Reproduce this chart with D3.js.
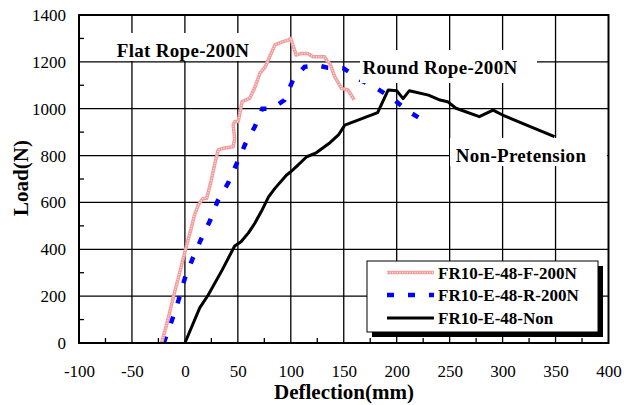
<!DOCTYPE html>
<html>
<head>
<meta charset="utf-8">
<script src="https://cdn.jsdelivr.net/npm/d3@7"></script>
<style>
  html, body { margin: 0; padding: 0; background: #fff; }
  svg { display: block; }
  text { font-family: "Liberation Serif", "Times New Roman", serif; fill: #000; }
</style>
</head>
<body>
<svg id="chart" width="624" height="405"></svg>
<script>
// ---- data ----
const xTicks = [-100, -50, 0, 50, 100, 150, 200, 250, 300, 350, 400];
const yTicks = [0, 200, 400, 600, 800, 1000, 1200, 1400];
const xMinor = [-75, -25, 25, 75, 125, 175, 225, 275, 325, 375];
const yMinor = [100, 300, 500, 700, 900, 1100, 1300];

const seriesNames = ["FR10-E-48-F-200N", "FR10-E-48-R-200N", "FR10-E-48-Non"];

const flatX = [-22, -16, -11, -6, -2, 3, 6, 9, 12.6, 17, 20.5, 25, 28, 31.4, 36, 45.6, 47, 45.6, 47, 50.3, 54, 61, 66, 70.8, 76, 80, 85, 92, 97.5, 100, 105, 110, 116, 121, 127, 132, 134, 137, 141.5, 147.8, 154, 160];
const flatY = [0, 100, 195, 280, 354, 440, 490, 545, 589, 617, 617, 696, 760, 824, 831, 838, 873, 930, 945, 945, 1030, 1044, 1090, 1151, 1180, 1222, 1272, 1285, 1293, 1300, 1229, 1236, 1236, 1222, 1222, 1222, 1205, 1193, 1137, 1087, 1080, 1037];

const roundX = [-20, -12, -6, 0, 7, 15, 24, 31, 41, 49, 57, 66, 73, 82, 94, 102, 113, 125, 135, 150, 166, 181, 196, 210, 225];
const roundY = [0, 100, 183, 277, 357, 440, 525, 607, 684, 767, 849, 923, 1000, 1000, 1037, 1122, 1179, 1185, 1175, 1172, 1122, 1087, 1044, 992, 950];

const nonX = [0, 14, 22, 35, 47, 53, 60, 66, 72, 79, 85, 96, 100, 105, 115, 124, 137, 145, 151, 182, 192, 200, 206, 212, 230, 241, 248, 256, 278, 291, 300, 325, 349];
const nonY = [0, 150, 205, 310, 414, 432, 470, 511, 560, 624, 660, 717, 731, 752, 795, 812, 855, 888, 930, 983, 1080, 1077, 1043, 1077, 1058, 1037, 1030, 1002, 966, 994, 973, 926, 881];

const annotations = ["Flat Rope-200N", "Round Rope-200N", "Non-Pretension"];

// ---- setup ----
const FONT = "Liberation Serif";
const svg = d3.select("#chart");
const x = d3.scaleLinear().domain([-100, 400]).range([79, 608.5]);
const y = d3.scaleLinear().domain([0, 1400]).range([343, 15]);

// gridlines
const grid = svg.append("g");
grid.selectAll(".vg").data(xTicks.slice(1, -1)).enter().append("line")
  .attr("x1", d => x(d)).attr("x2", d => x(d))
  .attr("y1", y(0)).attr("y2", y(1400))
  .attr("stroke", "#000").attr("stroke-width", 1.3);
grid.selectAll(".hg").data(yTicks.slice(1, -1)).enter().append("line")
  .attr("x1", x(-100)).attr("x2", x(400))
  .attr("y1", d => y(d)).attr("y2", d => y(d))
  .attr("stroke", "#000").attr("stroke-width", 1.3);

// minor ticks
grid.selectAll(".xm").data(xMinor).enter().append("line")
  .attr("x1", d => x(d)).attr("x2", d => x(d))
  .attr("y1", y(0)).attr("y2", y(0) - 5)
  .attr("stroke", "#000").attr("stroke-width", 1.3);
grid.selectAll(".ym").data(yMinor).enter().append("line")
  .attr("x1", x(-100)).attr("x2", x(-100) + 5)
  .attr("y1", d => y(d)).attr("y2", d => y(d))
  .attr("stroke", "#000").attr("stroke-width", 1.3);

// axes labels via d3 axes
const xAxis = svg.append("g").attr("transform", `translate(0,${y(0)})`)
  .call(d3.axisBottom(x).tickValues(xTicks).tickSize(0).tickPadding(22).tickFormat(d => String(d)));
xAxis.attr("font-family", FONT).attr("font-size", 17);
xAxis.select(".domain").remove();
xAxis.selectAll("text").style("font-family", FONT).style("font-size", "17px").attr("fill", "#000");

const yAxis = svg.append("g").attr("transform", `translate(${x(-100)},0)`)
  .call(d3.axisLeft(y).tickValues(yTicks).tickSize(0).tickPadding(13).tickFormat(d => String(d)));
yAxis.attr("font-family", FONT).attr("font-size", 17);
yAxis.select(".domain").remove();
yAxis.selectAll("text").style("font-family", FONT).style("font-size", "17px").attr("fill", "#000");

// annotation boxes
const ann = [
  { t: annotations[0], bx: 112, by: 33, bw: 142, bh: 28, tx: 183, ty: 57 },
  { t: annotations[1], bx: 360, by: 50, bw: 177, bh: 33, tx: 440, ty: 74 },
  { t: annotations[2], bx: 450, by: 138, bw: 157, bh: 28, tx: 521, ty: 162 }
];

// lines
const line = d3.line().x(d => x(d[0])).y(d => y(d[1]));
const flat = flatX.map((v, i) => [v, flatY[i]]);
const round = roundX.map((v, i) => [v, roundY[i]]);
const non = nonX.map((v, i) => [v, nonY[i]]);

svg.append("path").datum(non).attr("d", line)
  .attr("fill", "none").attr("stroke", "#000").attr("stroke-width", 3)
  .attr("stroke-linejoin", "round");

svg.append("path").datum(round).attr("d", line)
  .attr("fill", "none").attr("stroke", "#0000ff").attr("stroke-width", 4.5)
  .attr("stroke-dasharray", "7,14");

svg.append("path").datum(flat).attr("d", line)
  .attr("fill", "none").attr("stroke", "#f39c9c").attr("stroke-width", 3.5)
  .attr("stroke-linejoin", "round");
svg.append("path").datum(flat).attr("d", line)
  .attr("fill", "none").attr("stroke", "#fff").attr("stroke-width", 1.3)
  .attr("stroke-dasharray", "1,1.5").attr("opacity", 0.75);

// annotation text boxes (drawn above the lines as in the reference)
ann.forEach(a => {
  svg.append("rect").attr("x", a.bx).attr("y", a.by).attr("width", a.bw).attr("height", a.bh).attr("fill", "#fff");
  svg.append("text").attr("x", a.tx).attr("y", a.ty).attr("text-anchor", "middle")
    .style("font-size", "19px").style("font-weight", "bold").style("letter-spacing", "0.3px").text(a.t);
});

// frame
svg.append("rect").attr("x", x(-100)).attr("y", y(1400))
  .attr("width", x(400) - x(-100)).attr("height", y(0) - y(1400))
  .attr("fill", "none").attr("stroke", "#000").attr("stroke-width", 2);

// axis titles
svg.append("text").attr("x", 344).attr("y", 399).attr("text-anchor", "middle")
  .style("font-size", "21px").style("font-weight", "bold").text("Deflection(mm)");
svg.append("text").attr("transform", "translate(28,178) rotate(-90)").attr("text-anchor", "middle")
  .style("font-size", "21px").style("font-weight", "bold").text("Load(N)");

// legend
const lg = svg.append("g");
lg.append("rect").attr("x", 372).attr("y", 266).attr("width", 231).attr("height", 71).attr("fill", "#000");
lg.append("rect").attr("x", 367).attr("y", 261).attr("width", 231).attr("height", 71)
  .attr("fill", "#fff").attr("stroke", "#000").attr("stroke-width", 1);
const rows = [272.5, 295, 318];
const styles = [
  { stroke: "#f39c9c", w: 3.5, dash: null },
  { stroke: "#0000ff", w: 4.5, dash: "7,14" },
  { stroke: "#000", w: 3, dash: null }
];
seriesNames.forEach((n, i) => {
  const p = lg.append("line").attr("x1", 387).attr("x2", 434).attr("y1", rows[i]).attr("y2", rows[i])
    .attr("stroke", styles[i].stroke).attr("stroke-width", styles[i].w);
  if (styles[i].dash) p.attr("stroke-dasharray", styles[i].dash);
  if (i === 0) {
    lg.append("line").attr("x1", 387).attr("x2", 434).attr("y1", rows[i]).attr("y2", rows[i])
      .attr("stroke", "#fff").attr("stroke-width", 1.3).attr("stroke-dasharray", "1,1.5").attr("opacity", 0.75);
  }
  lg.append("text").attr("x", 438).attr("y", rows[i] + 6)
    .style("font-size", "17px").style("font-weight", "bold").text(n);
});
</script>
</body>
</html>
